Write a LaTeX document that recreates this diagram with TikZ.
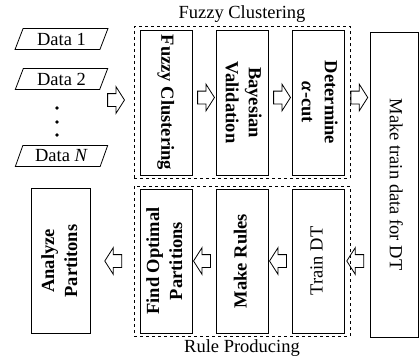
\documentclass[tikz,border=0pt]{standalone}
\usepackage{fontspec}
\setmainfont{Liberation Serif}
\usetikzlibrary{shapes.geometric,shapes.arrows,fit,calc}

% text turned on its side inside the tall boxes
\newcommand{\rotdown}[1]{\rotatebox{-90}{\begin{tabular}{@{}c@{}}#1\end{tabular}}}
\newcommand{\rotup}[1]{\rotatebox{90}{\begin{tabular}{@{}c@{}}#1\end{tabular}}}

\begin{document}
\begin{tikzpicture}[x=1pt,y=-1pt,node distance=76pt,
  font=\fontsize{18.5}{23}\selectfont,
  box/.style={draw,rectangle,minimum width=52pt,minimum height=145pt,inner sep=0pt,line width=0.9pt},
  frame/.style={draw,dashed,inner xsep=5.5pt,inner ysep=3pt,line width=0.8pt},
  datum/.style={draw,trapezium,trapezium left angle=68,trapezium right angle=112,
    trapezium stretches=true,minimum width=93pt,minimum height=21pt,inner ysep=1pt,line width=0.8pt},
  fat/.style={draw,single arrow,single arrow head extend=7pt,single arrow tip angle=115,
    minimum height=15pt,inner sep=6pt,line width=0.8pt},
  back/.style={fat,shape border rotate=180}]

\useasboundingbox (0,0) rectangle (419,360);

% input data
\node[datum] (d1) at (61.5,39)  {Data 1};
\node[datum] (d2) at (61.5,79)  {Data 2};
\node[datum] (dn) at (61.5,156) {Data \textit{N}};
\foreach \dy in {108,122,135} \fill (57,\dy) circle (1.8pt);

% upper row
\node[box] (fc) at (166,102.5) {\bfseries\rotdown{Fuzzy Clustering}};
\node[box] (bv) [right of=fc] {\bfseries\rotdown{Bayesian\\Validation}};
\node[box] (dc) [right of=bv] {\bfseries\rotdown{Determine\\\textit{α}-cut}};

\node[box,minimum width=48pt,minimum height=305pt] (mt) at (394.5,184.5) {\rotdown{Make train data for DT}};

% lower row
\node[box,minimum height=144pt] (fo) [below of=fc,node distance=158.5pt] {\bfseries\rotup{Find Optimal\\Partitions}};
\node[box,minimum height=144pt] (mr) [right of=fo] {\bfseries\rotup{Make Rules}};
\node[box,minimum height=144pt] (td) [right of=mr] {\rotup{Train DT}};
\node[box,minimum width=59pt] (an) [left of=fo,node distance=105pt] {\bfseries\rotup{Analyze\\Partitons}};

\node[frame,fit=(fc)(bv)(dc),label=above:{Fuzzy Clustering}] (top) {};
\node[frame,inner ysep=2.5pt,fit=(fo)(mr)(td),label=below:{Rule Producing}] (bot) {};

% flow arrows
\node[fat] (a0) at (114,100) {};
\node[fat,yshift=5pt] (a1) at ($(fc.east)!0.5!(bv.west)$) {};
\node[fat,yshift=5pt] (a2) at ($(bv.east)!0.5!(dc.west)$) {};
\node[fat,yshift=5pt] (a3) at ($(dc.east)!0.5!(dc.east -| mt.west)$) {};
\node[back] (b1) at ($(td.east)!0.5!(td.east -| mt.west)$) {};
\node[back] (b2) at ($(mr.east)!0.5!(td.west)$) {};
\node[back] (b3) at ($(fo.east)!0.5!(mr.west)$) {};
\node[back] (b4) at ($(an.east)!0.5!(fo.west)$) {};

\end{tikzpicture}
\end{document}
